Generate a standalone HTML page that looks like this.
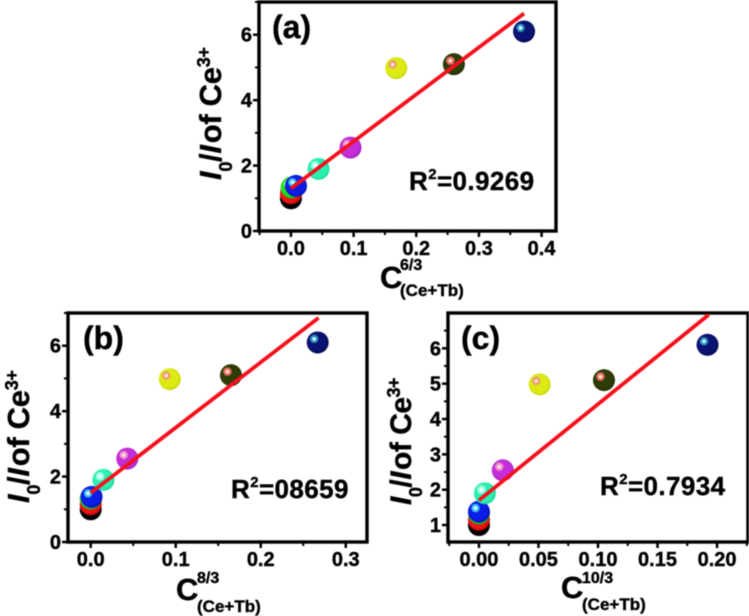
<!DOCTYPE html>
<html>
<head>
<meta charset="utf-8">
<title>Ce3+ intensity ratio plots</title>
<style>
html,body{margin:0;padding:0;background:#fff}
svg{display:block;filter:blur(0.6px)}
text{font-family:"Liberation Sans",sans-serif;font-weight:bold;fill:#000;stroke:#000;stroke-width:0.4px}
</style>
</head>
<body>
<svg id="figure" xmlns="http://www.w3.org/2000/svg" width="749" height="616" viewBox="0 0 749 616">
  <defs id="defs"></defs>
  <g id="panel-a"></g>
  <g id="panel-b"></g>
  <g id="panel-c"></g>

  <text x="272" y="38" font-size="32">(a)</text>
  <text x="409" y="190" font-size="26" letter-spacing="0.4">R<tspan dy="-11" font-size="15">2</tspan><tspan dy="11">=0.9269</tspan></text>
  <text x="380" y="288" font-size="31">C<tspan x="400" y="270" font-size="16">6/3</tspan><tspan x="400" y="296" font-size="17">(Ce+Tb)</tspan></text>
  <text transform="translate(221 180) rotate(-90)" font-size="31" letter-spacing="-0.3"><tspan font-style="italic">I</tspan><tspan dy="11" font-size="18">0</tspan><tspan dy="-11">/</tspan><tspan font-style="italic">I</tspan><tspan dx="2">of Ce</tspan><tspan dy="-11" font-size="18">3+</tspan></text>

  <text x="83" y="349" font-size="32">(b)</text>
  <text x="231" y="498" font-size="26" letter-spacing="0.4">R<tspan dy="-11" font-size="15">2</tspan><tspan dy="11">=08659</tspan></text>
  <text x="176" y="600" font-size="31">C<tspan x="197" y="583" font-size="16">8/3</tspan><tspan x="197" y="612" font-size="17">(Ce+Tb)</tspan></text>
  <text transform="translate(29 503) rotate(-90)" font-size="31" letter-spacing="-0.3"><tspan font-style="italic">I</tspan><tspan dy="11" font-size="18">0</tspan><tspan dy="-11">/</tspan><tspan font-style="italic">I</tspan><tspan dx="2">of Ce</tspan><tspan dy="-11" font-size="18">3+</tspan></text>

  <text x="461" y="349" font-size="32">(c)</text>
  <text x="600" y="495" font-size="26" letter-spacing="0.4">R<tspan dy="-11" font-size="15">2</tspan><tspan dy="11">=0.7934</tspan></text>
  <text x="561" y="598" font-size="31">C<tspan x="582" y="583" font-size="16">10/3</tspan><tspan x="582" y="610" font-size="17">(Ce+Tb)</tspan></text>
  <text transform="translate(411 505) rotate(-90)" font-size="30" letter-spacing="-0.5"><tspan font-style="italic">I</tspan><tspan dy="11" font-size="18">0</tspan><tspan dy="-11">/</tspan><tspan font-style="italic">I</tspan><tspan dx="2">of Ce</tspan><tspan dy="-11" font-size="18">3+</tspan></text>
</svg>
<script>
// Shared y values, one per sample
const intensityRatio = [1.0, 1.15, 1.33, 1.38, 1.9, 2.55, 4.98, 5.1, 6.1];

// Panel (a)
const concentrationA = [0.0, 0.0, 0.001, 0.008, 0.044, 0.095, 0.168, 0.26, 0.372];
const fitXA = [0.0, 0.372];
const fitYA = [1.3, 6.65];
const xTicksA = [0.0, 0.1, 0.2, 0.3, 0.4];
const xTickLabelsA = ["0.0", "0.1", "0.2", "0.3", "0.4"];
const xMinorA = [-0.05, 0.05, 0.15, 0.25, 0.35];
const yTicksA = [0, 2, 4, 6];
const yMinorA = [1, 3, 5, 7];

// Panel (b)
const concentrationB = [0.0, 0.0, 0.0, 0.001, 0.015, 0.043, 0.093, 0.165, 0.267];
const fitXB = [0.0, 0.268];
const fitYB = [1.5, 6.85];
const xTicksB = [0.0, 0.1, 0.2, 0.3];
const xTickLabelsB = ["0.0", "0.1", "0.2", "0.3"];
const xMinorB = [0.05, 0.15, 0.25];
const yTicksB = [0, 2, 4, 6];
const yMinorB = [1, 3, 5, 7];

// Panel (c)
const concentrationC = [0.0, 0.0, 0.0, 0.0, 0.005, 0.02, 0.051, 0.105, 0.192];
const fitXC = [0.0, 0.193];
const fitYC = [1.7, 6.95];
const xTicksC = [0.0, 0.05, 0.1, 0.15, 0.2];
const xTickLabelsC = ["0.00", "0.05", "0.10", "0.15", "0.20"];
const xMinorC = [-0.025, 0.025, 0.075, 0.125, 0.175, 0.225];
const yTicksC = [1, 2, 3, 4, 5, 6];
const yMinorC = [1.5, 2.5, 3.5, 4.5, 5.5, 6.5];

// Marker styling, in sample order
const markerColors = ["#000000", "#ee1414", "#22e022", "#0c1ee6", "#2cf0b0", "#c42ed8", "#dcea14", "#2e3c08", "#0a1272"];
const markerEdges = ["#000000", "#c00808", "#14b014", "#0810b8", "#20d8a0", "#a820c0", "#c8d80c", "#222e04", "#050a50"];
const glowColors = ["#555555", "#ff9090", "#aaffaa", "#40c0f0", "#a0ffe8", "#f090c8", "#f09878", "#f07060", "#3090c0"];
const glowCores = ["#aaaaaa", "#ffe0e0", "#eeffee", "#d8ffff", "#f4fff8", "#ffe0f0", "#ffe8e0", "#ffe8e0", "#d0ffff"];
const sampleNames = ["black", "red", "green", "blue", "teal", "magenta", "yellow", "dark-green", "navy"];

const NS = "http://www.w3.org/2000/svg";
const defs = document.getElementById("defs");

function make(parent, tag, attrs) {
  const el = document.createElementNS(NS, tag);
  for (const k in attrs) el.setAttribute(k, attrs[k]);
  parent.appendChild(el);
  return el;
}

markerColors.forEach(function (c, i) {
  const g = make(defs, "radialGradient", { id: "sphere" + i, cx: "0.45", cy: "0.45", r: "0.55" });
  make(g, "stop", { offset: "0.75", "stop-color": c });
  make(g, "stop", { offset: "1", "stop-color": markerEdges[i] });
});

function drawPanel(id, box, dom, series, fit, ticks) {
  const root = document.getElementById(id);
  const sx = function (v) { return box.left + (v - dom.x0) / (dom.x1 - dom.x0) * (box.right - box.left); };
  const sy = function (v) { return box.bottom - (v - dom.y0) / (dom.y1 - dom.y0) * (box.bottom - box.top); };

  ticks.yMinor.forEach(function (v) {
    if (sy(v) < box.top) return;
    const t = make(root, "line", { x1: box.left - 4, x2: box.left, y1: sy(v), y2: sy(v), stroke: "#000", "stroke-width": 2 });
    
    
  });
  ticks.xMinor.forEach(function (v) {
    if (sx(v) < box.left || sx(v) > box.right) return;
    const t = make(root, "line", { x1: sx(v), x2: sx(v), y1: box.bottom, y2: box.bottom + 4, stroke: "#000", "stroke-width": 2 });
    
    
  });
  ticks.y.forEach(function (v) {
    const t = make(root, "line", { x1: box.left - 6, x2: box.left, y1: sy(v), y2: sy(v), stroke: "#000", "stroke-width": 2.5 });
    
    
    const l = make(root, "text", { x: box.left - 7, y: sy(v) + 7, "font-size": 20, "text-anchor": "end" });
    l.textContent = String(v);
    
    
  });
  ticks.x.forEach(function (v, i) {
    const t = make(root, "line", { x1: sx(v), x2: sx(v), y1: box.bottom, y2: box.bottom + 6, stroke: "#000", "stroke-width": 2.5 });
    
    
    const l = make(root, "text", { x: sx(v), y: box.bottom + 24, "font-size": 20, "text-anchor": "middle" });
    l.textContent = ticks.xLabels[i];
    
    
  });

  const frame = make(root, "rect", { x: box.left, y: box.top, width: box.right - box.left, height: box.bottom - box.top, fill: "none", stroke: "#000", "stroke-width": 3.4 });
  
  

  series.x.forEach(function (xv, i) {
    const cx = sx(xv), cy = sy(series.y[i]);
    const g = make(root, "g", {});
    
    
    make(g, "circle", { cx: cx, cy: cy, r: 11, fill: "url(#sphere" + i + ")" });
    make(g, "circle", { cx: cx - 3.5, cy: cy - 3.5, r: 4.2, fill: glowColors[i] });
    make(g, "circle", { cx: cx - 3.5, cy: cy - 3.5, r: 1.8, fill: glowCores[i] });
  });

  const fitLine = make(root, "line", { x1: sx(fit.x[0]), y1: sy(fit.y[0]), x2: sx(fit.x[1]), y2: sy(fit.y[1]), stroke: "#f5101c", "stroke-width": 3.8 });
  
  
}

drawPanel("panel-a",
  { left: 259, right: 556, top: 2, bottom: 231 },
  { x0: -0.051, x1: 0.423, y0: 0, y1: 7 },
  { x: concentrationA, y: intensityRatio },
  { x: fitXA, y: fitYA },
  { x: xTicksA, xLabels: xTickLabelsA, xMinor: xMinorA, y: yTicksA, yMinor: yMinorA });

drawPanel("panel-b",
  { left: 68, right: 367, top: 313, bottom: 542 },
  { x0: -0.0267, x1: 0.325, y0: 0, y1: 7 },
  { x: concentrationB, y: intensityRatio },
  { x: fitXB, y: fitYB },
  { x: xTicksB, xLabels: xTickLabelsB, xMinor: xMinorB, y: yTicksB, yMinor: yMinorB });

drawPanel("panel-c",
  { left: 448, right: 748, top: 313, bottom: 542 },
  { x0: -0.026, x1: 0.226, y0: 0.52, y1: 7 },
  { x: concentrationC, y: intensityRatio },
  { x: fitXC, y: fitYC },
  { x: xTicksC, xLabels: xTickLabelsC, xMinor: xMinorC, y: yTicksC, yMinor: yMinorC });
</script>
</body>
</html>
